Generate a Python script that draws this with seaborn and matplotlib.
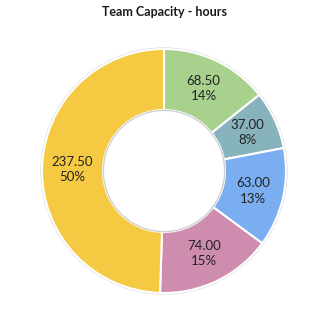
import matplotlib
matplotlib.use("Agg")
import matplotlib.pyplot as plt
import seaborn as sns
import pandas as pd

categories = ["A", "B", "C", "D", "E"]
hours = [68.50, 37.00, 63.00, 74.00, 237.50]
pct_labels = ["14%", "8%", "13%", "15%", "50%"]
colors = ["#A9D18E", "#87B3BD", "#7BAEF0", "#CE8DAF", "#F5C942"]
title = "Team Capacity - hours"

sns.set_theme(style="white")
plt.rcParams["font.family"] = ["Lato", "DejaVu Sans"]

df = pd.DataFrame({"category": categories, "hours": hours, "pct": pct_labels})

W, H = 326, 318
fig = plt.figure(figsize=(W / 100, H / 100), dpi=100)
cx, cy, R = 164, 171, 122
ax = fig.add_axes([(cx - R) / W, (H - cy - R) / H, 2 * R / W, 2 * R / H])

labels = [f"{v:.2f}\n{p}" for v, p in zip(df["hours"], df["pct"])]
wedges, texts = ax.pie(
    df["hours"], colors=colors, startangle=90, counterclock=False,
    radius=1.0, labels=labels, labeldistance=0.75,
    wedgeprops=dict(width=0.5, edgecolor="white", linewidth=1.5),
    textprops=dict(fontsize=9.5, color="#222222", ha="center", va="center",
                   linespacing=1.35),
)
for t in texts:
    t.set_horizontalalignment("center")
for w in wedges:
    w.set_clip_on(False)
# subtle shadow outlines
ax.add_patch(plt.Circle((0, 0), 1.006, fill=False, ec="#d8d8d8", lw=1.2,
                        zorder=0, clip_on=False))
ax.add_patch(plt.Circle((0, 0), 0.497, fill=False, ec="#d0d0d0", lw=1.0, zorder=5))
ax.set_xlim(-1.0, 1.0)
ax.set_ylim(-1.0, 1.0)
ax.set_aspect("equal")
ax.axis("off")

fig.text(164 / W, 1 - 12 / H, title, ha="center", va="center",
         fontsize=9, fontweight="bold", color="#1a1a1a")

fig.savefig("out.png", dpi=100, facecolor="white")
